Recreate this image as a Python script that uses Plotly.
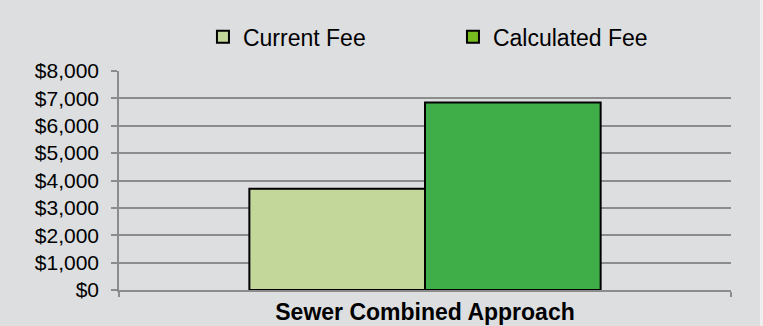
import plotly.graph_objects as go

categories = ["Sewer Combined Approach"]
series_names = ["Current Fee", "Calculated Fee"]
current_fee = [3700]
calculated_fee = [6850]
bar_colors = ["#C4D79B", "#3FAE49"]
legend_colors = ["#C4D79B", "#77BC1F"]
tick_vals = [0, 1000, 2000, 3000, 4000, 5000, 6000, 7000, 8000]
tick_text = ["$0", "$1,000", "$2,000", "$3,000", "$4,000", "$5,000", "$6,000", "$7,000", "$8,000"]

fig = go.Figure()
for name, vals, col in zip(series_names, [current_fee, calculated_fee], bar_colors):
    fig.add_trace(go.Bar(
        x=categories, y=vals, name=name, showlegend=False,
        marker=dict(color=col, line=dict(color="#000000", width=2)),
    ))
# legend swatches
for name, col in zip(series_names, legend_colors):
    fig.add_trace(go.Scatter(
        x=[None], y=[None], mode="markers", name=name,
        marker=dict(symbol="square", size=12, color=col,
                    line=dict(color="#000000", width=2)),
    ))

fig.update_layout(
    width=763, height=326,
    margin=dict(l=119, r=32, t=71, b=36, autoexpand=False),
    paper_bgcolor="#DDDEE0", plot_bgcolor="#DDDEE0",
    barmode="group", bargap=0.426, bargroupgap=0,
    font=dict(family="Liberation Sans, Arial", color="#000000"),
    legend=dict(orientation="h", xref="container", yref="container",
                x=0.266, xanchor="left", y=0.887, yanchor="middle",
                font=dict(size=23), itemwidth=30, entrywidth=205,
                bgcolor="rgba(0,0,0,0)"),
    showlegend=True,
)
fig.update_yaxes(
    range=[0, 8000], tickvals=tick_vals, ticktext=tick_text,
    showgrid=True, gridcolor="#8C8C8C", gridwidth=1.5,
    showline=True, linecolor="#8C8C8C", linewidth=1.5,
    ticks="outside", ticklen=6, tickcolor="#8C8C8C", tickwidth=1.5,
    tickfont=dict(size=21), ticklabelstandoff=8, zeroline=False,
)
fig.update_xaxes(
    showline=True, linecolor="#8C8C8C", linewidth=1.5,
    ticks="outside", tickson="boundaries", ticklen=5, tickcolor="#8C8C8C", tickwidth=1.5,
    tickfont=dict(size=23, family="Liberation Sans, Arial"), ticklabelstandoff=1,
    ticktext=["<b>Sewer Combined Approach</b>"], tickvals=categories,
)
# lighter strip along the right edge of the chart area
fig.add_shape(type="rect", xref="paper", yref="paper", x0=(760 - 119) / 612, x1=1.2,
              y0=-0.3, y1=1.5, fillcolor="#EFEFEF", line=dict(width=0), layer="below")
fig.write_html("out.html")
